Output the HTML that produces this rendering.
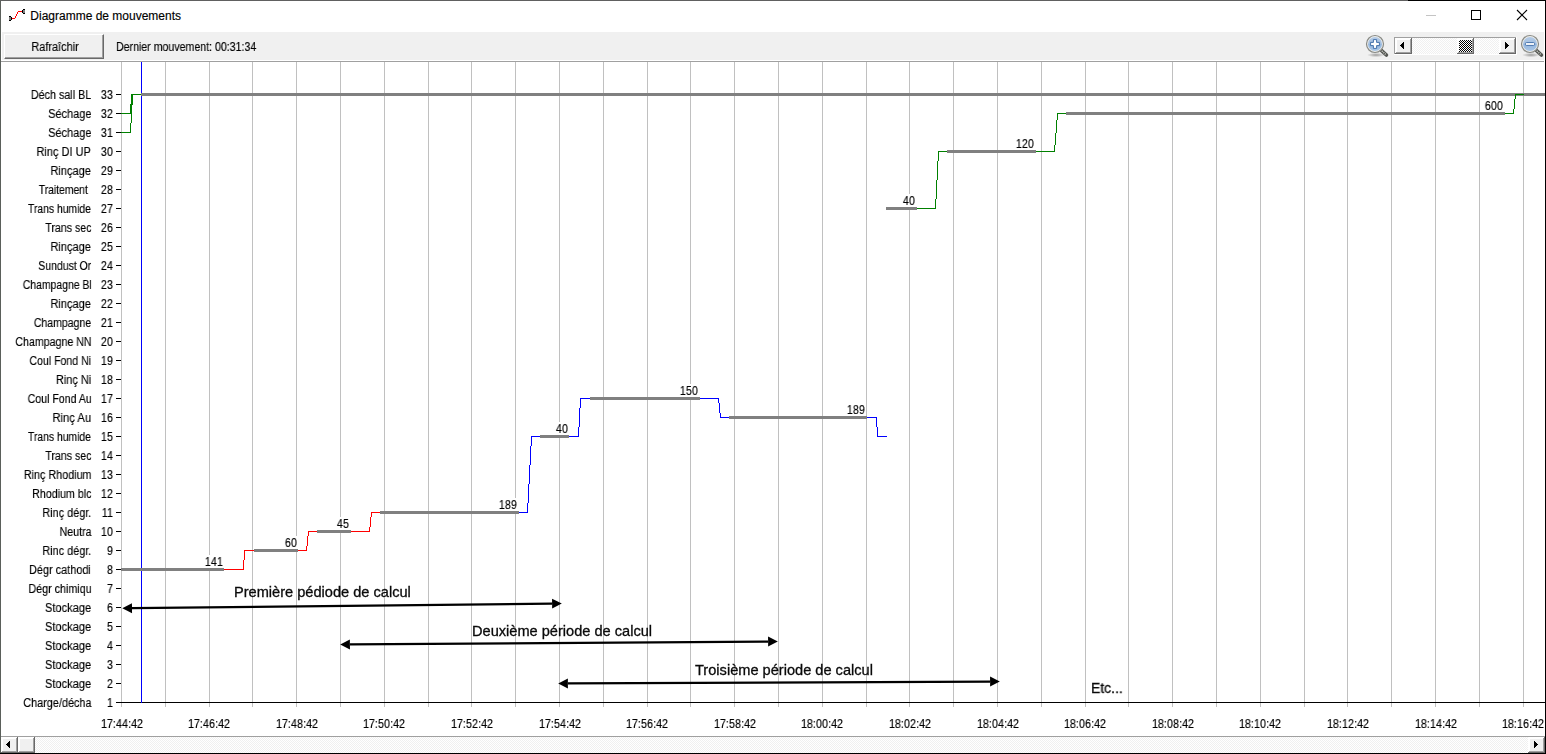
<!DOCTYPE html>
<html lang="fr"><head><meta charset="utf-8"><title>Diagramme de mouvements</title>
<style>
html,body{margin:0;padding:0;background:#fff;}
body{width:1546px;height:754px;overflow:hidden;position:relative;font-family:"Liberation Sans",sans-serif;color:#000;}
.abs{position:absolute;}
#win{position:absolute;left:0;top:0;width:1546px;height:754px;overflow:hidden;background:#fff;}
#title{position:absolute;left:30.3px;top:8px;font-size:12px;line-height:16px;white-space:pre;color:#000;-webkit-text-stroke:0.15px #000;}
#tb{position:absolute;left:2px;top:32px;width:1542px;height:28px;background:#f0f0f0;}
#tbline{position:absolute;left:1px;top:61px;width:1543px;height:1px;background:#a0a0a0;}
.ms{position:absolute;white-space:pre;font-size:12.5px;line-height:1;color:#000;will-change:transform;-webkit-text-stroke:0.15px #000;}
.r{transform:scaleX(0.875);transform-origin:100% 50%;text-align:right;}
.l{transform:scaleX(0.875);transform-origin:0 50%;}
.c{transform:scaleX(0.875);transform-origin:50% 50%;text-align:center;}
.rd{transform:scaleX(0.865);transform-origin:100% 50%;text-align:right;}
.cd{transform:scaleX(0.865);transform-origin:50% 50%;text-align:center;}
.cal{position:absolute;white-space:pre;font-size:14.6px;line-height:1;color:#0a0a0a;will-change:transform;-webkit-text-stroke:0.3px #0a0a0a;}
#btn{position:absolute;left:4px;top:34px;width:100px;height:25px;background:#f0f0f0;box-sizing:border-box;
 border-left:1px solid #fff;border-top:1px solid #fff;border-right:1px solid #696969;border-bottom:1px solid #696969;}
#btn i{position:absolute;left:0;top:0;right:0;bottom:0;border-right:1px solid #a0a0a0;border-bottom:1px solid #a0a0a0;}
svg{position:absolute;left:0;top:0;}

</style></head><body><div id="win">
<div id="title">Diagramme de mouvements</div>
<div id="tb"></div><div id="tbline"></div>
<div id="btn"><i></i></div>
<svg width="1546" height="754" viewBox="0 0 1546 754">
<g shape-rendering="crispEdges">
<rect x="121" y="62" width="1" height="645" fill="#c0c0c0"/>
<rect x="165" y="62" width="1" height="645" fill="#c0c0c0"/>
<rect x="209" y="62" width="1" height="645" fill="#c0c0c0"/>
<rect x="252" y="62" width="1" height="645" fill="#c0c0c0"/>
<rect x="296" y="62" width="1" height="645" fill="#c0c0c0"/>
<rect x="340" y="62" width="1" height="645" fill="#c0c0c0"/>
<rect x="384" y="62" width="1" height="645" fill="#c0c0c0"/>
<rect x="428" y="62" width="1" height="645" fill="#c0c0c0"/>
<rect x="471" y="62" width="1" height="645" fill="#c0c0c0"/>
<rect x="515" y="62" width="1" height="645" fill="#c0c0c0"/>
<rect x="559" y="62" width="1" height="645" fill="#c0c0c0"/>
<rect x="603" y="62" width="1" height="645" fill="#c0c0c0"/>
<rect x="647" y="62" width="1" height="645" fill="#c0c0c0"/>
<rect x="690" y="62" width="1" height="645" fill="#c0c0c0"/>
<rect x="734" y="62" width="1" height="645" fill="#c0c0c0"/>
<rect x="778" y="62" width="1" height="645" fill="#c0c0c0"/>
<rect x="822" y="62" width="1" height="645" fill="#c0c0c0"/>
<rect x="866" y="62" width="1" height="645" fill="#c0c0c0"/>
<rect x="909" y="62" width="1" height="645" fill="#c0c0c0"/>
<rect x="953" y="62" width="1" height="645" fill="#c0c0c0"/>
<rect x="997" y="62" width="1" height="645" fill="#c0c0c0"/>
<rect x="1041" y="62" width="1" height="645" fill="#c0c0c0"/>
<rect x="1085" y="62" width="1" height="645" fill="#c0c0c0"/>
<rect x="1128" y="62" width="1" height="645" fill="#c0c0c0"/>
<rect x="1172" y="62" width="1" height="645" fill="#c0c0c0"/>
<rect x="1216" y="62" width="1" height="645" fill="#c0c0c0"/>
<rect x="1260" y="62" width="1" height="645" fill="#c0c0c0"/>
<rect x="1304" y="62" width="1" height="645" fill="#c0c0c0"/>
<rect x="1347" y="62" width="1" height="645" fill="#c0c0c0"/>
<rect x="1391" y="62" width="1" height="645" fill="#c0c0c0"/>
<rect x="1435" y="62" width="1" height="645" fill="#c0c0c0"/>
<rect x="1479" y="62" width="1" height="645" fill="#c0c0c0"/>
<rect x="1523" y="62" width="1" height="645" fill="#c0c0c0"/>
<rect x="116" y="702" width="5" height="1" fill="#000"/>
<rect x="116" y="683" width="5" height="1" fill="#000"/>
<rect x="116" y="664" width="5" height="1" fill="#000"/>
<rect x="116" y="645" width="5" height="1" fill="#000"/>
<rect x="116" y="626" width="5" height="1" fill="#000"/>
<rect x="116" y="607" width="5" height="1" fill="#000"/>
<rect x="116" y="588" width="5" height="1" fill="#000"/>
<rect x="116" y="569" width="5" height="1" fill="#000"/>
<rect x="116" y="550" width="5" height="1" fill="#000"/>
<rect x="116" y="531" width="5" height="1" fill="#000"/>
<rect x="116" y="512" width="5" height="1" fill="#000"/>
<rect x="116" y="493" width="5" height="1" fill="#000"/>
<rect x="116" y="474" width="5" height="1" fill="#000"/>
<rect x="116" y="455" width="5" height="1" fill="#000"/>
<rect x="116" y="436" width="5" height="1" fill="#000"/>
<rect x="116" y="417" width="5" height="1" fill="#000"/>
<rect x="116" y="398" width="5" height="1" fill="#000"/>
<rect x="116" y="379" width="5" height="1" fill="#000"/>
<rect x="116" y="360" width="5" height="1" fill="#000"/>
<rect x="116" y="341" width="5" height="1" fill="#000"/>
<rect x="116" y="322" width="5" height="1" fill="#000"/>
<rect x="116" y="303" width="5" height="1" fill="#000"/>
<rect x="116" y="284" width="5" height="1" fill="#000"/>
<rect x="116" y="265" width="5" height="1" fill="#000"/>
<rect x="116" y="246" width="5" height="1" fill="#000"/>
<rect x="116" y="227" width="5" height="1" fill="#000"/>
<rect x="116" y="208" width="5" height="1" fill="#000"/>
<rect x="116" y="189" width="5" height="1" fill="#000"/>
<rect x="116" y="170" width="5" height="1" fill="#000"/>
<rect x="116" y="151" width="5" height="1" fill="#000"/>
<rect x="116" y="132" width="5" height="1" fill="#000"/>
<rect x="116" y="113" width="5" height="1" fill="#000"/>
<rect x="116" y="94" width="5" height="1" fill="#000"/>
<rect x="121" y="702" width="1424" height="1" fill="#000"/>
<rect x="141" y="62" width="1" height="641" fill="#0000ff"/>
<rect x="204" y="555" width="19" height="13" fill="#fff"/>
<rect x="284" y="536" width="13" height="13" fill="#fff"/>
<rect x="337" y="517" width="13" height="13" fill="#fff"/>
<rect x="498" y="498" width="19" height="13" fill="#fff"/>
<rect x="555" y="422" width="13" height="13" fill="#fff"/>
<rect x="680" y="384" width="19" height="13" fill="#fff"/>
<rect x="847" y="403" width="19" height="13" fill="#fff"/>
<rect x="902" y="194" width="13" height="13" fill="#fff"/>
<rect x="1016" y="137" width="19" height="13" fill="#fff"/>
<rect x="1484" y="99" width="19" height="13" fill="#fff"/>
<rect x="121" y="132" width="10" height="1" fill="#008000"/>
<rect x="130" y="123" width="1" height="10" fill="#008000"/>
<rect x="131" y="113" width="1" height="10" fill="#008000"/>
<rect x="121" y="113" width="11" height="1" fill="#008000"/>
<rect x="130" y="104" width="2" height="10" fill="#008000"/><rect x="131" y="94" width="2" height="11" fill="#008000"/>
<rect x="131" y="94" width="11" height="1" fill="#008000"/>
<rect x="141" y="93" width="1404" height="3" fill="#808080"/>
<rect x="224" y="569" width="20" height="1" fill="#ff0000"/>
<rect x="243" y="560" width="1" height="10" fill="#ff0000"/>
<rect x="244" y="550" width="1" height="10" fill="#ff0000"/>
<rect x="244" y="550" width="10" height="1" fill="#ff0000"/>
<rect x="298" y="550" width="9" height="1" fill="#ff0000"/>
<rect x="306" y="546" width="1" height="5" fill="#ff0000"/>
<rect x="307" y="536" width="1" height="10" fill="#ff0000"/>
<rect x="308" y="531" width="1" height="5" fill="#ff0000"/>
<rect x="308" y="531" width="9" height="1" fill="#ff0000"/>
<rect x="351" y="531" width="19" height="1" fill="#ff0000"/>
<rect x="369" y="527" width="1" height="5" fill="#ff0000"/>
<rect x="370" y="517" width="1" height="10" fill="#ff0000"/>
<rect x="371" y="512" width="1" height="5" fill="#ff0000"/>
<rect x="371" y="512" width="9" height="1" fill="#ff0000"/>
<rect x="519" y="512" width="9" height="1" fill="#0000ff"/>
<rect x="527" y="503" width="1" height="10" fill="#0000ff"/>
<rect x="528" y="484" width="1" height="19" fill="#0000ff"/>
<rect x="529" y="465" width="1" height="19" fill="#0000ff"/>
<rect x="530" y="446" width="1" height="19" fill="#0000ff"/>
<rect x="531" y="436" width="1" height="10" fill="#0000ff"/>
<rect x="531" y="436" width="9" height="1" fill="#0000ff"/>
<rect x="569" y="436" width="10" height="1" fill="#0000ff"/>
<rect x="578" y="427" width="1" height="10" fill="#0000ff"/>
<rect x="579" y="408" width="1" height="19" fill="#0000ff"/>
<rect x="580" y="398" width="1" height="10" fill="#0000ff"/>
<rect x="580" y="398" width="10" height="1" fill="#0000ff"/>
<rect x="700" y="398" width="19" height="1" fill="#0000ff"/>
<rect x="718" y="398" width="1" height="5" fill="#0000ff"/>
<rect x="719" y="403" width="1" height="10" fill="#0000ff"/>
<rect x="720" y="413" width="1" height="5" fill="#0000ff"/>
<rect x="720" y="417" width="9" height="1" fill="#0000ff"/>
<rect x="867" y="417" width="10" height="1" fill="#0000ff"/>
<rect x="876" y="417" width="1" height="10" fill="#0000ff"/>
<rect x="877" y="427" width="1" height="10" fill="#0000ff"/>
<rect x="877" y="436" width="10" height="1" fill="#0000ff"/>
<rect x="121" y="568" width="103" height="3" fill="#808080"/>
<rect x="254" y="549" width="44" height="3" fill="#808080"/>
<rect x="317" y="530" width="34" height="3" fill="#808080"/>
<rect x="380" y="511" width="139" height="3" fill="#808080"/>
<rect x="540" y="435" width="29" height="3" fill="#808080"/>
<rect x="590" y="397" width="110" height="3" fill="#808080"/>
<rect x="729" y="416" width="138" height="3" fill="#808080"/>
<rect x="917" y="208" width="19" height="1" fill="#008000"/>
<rect x="935" y="199" width="1" height="10" fill="#008000"/>
<rect x="936" y="180" width="1" height="19" fill="#008000"/>
<rect x="937" y="161" width="1" height="19" fill="#008000"/>
<rect x="938" y="151" width="1" height="10" fill="#008000"/>
<rect x="938" y="151" width="9" height="1" fill="#008000"/>
<rect x="1036" y="151" width="19" height="1" fill="#008000"/>
<rect x="1054" y="145" width="1" height="7" fill="#008000"/>
<rect x="1055" y="133" width="1" height="12" fill="#008000"/>
<rect x="1056" y="120" width="1" height="13" fill="#008000"/>
<rect x="1057" y="113" width="1" height="7" fill="#008000"/>
<rect x="1057" y="113" width="9" height="1" fill="#008000"/>
<rect x="1505" y="113" width="9" height="1" fill="#008000"/>
<rect x="1513" y="109" width="1" height="5" fill="#008000"/>
<rect x="1514" y="99" width="1" height="10" fill="#008000"/>
<rect x="1515" y="94" width="1" height="5" fill="#008000"/>
<rect x="886" y="207" width="31" height="3" fill="#808080"/>
<rect x="947" y="150" width="89" height="3" fill="#808080"/>
<rect x="1066" y="112" width="439" height="3" fill="#808080"/>
<rect x="1515" y="94" width="9" height="1" fill="#008000"/>
</g>
<line x1="132.00" y1="608.19" x2="552.10" y2="603.61" stroke="#000" stroke-width="2.2"/>
<polygon points="122.30,608.30 132.05,613.14 131.95,603.24" fill="#000"/>
<polygon points="561.80,603.50 552.15,608.56 552.05,598.66" fill="#000"/>
<line x1="349.90" y1="644.43" x2="768.10" y2="641.57" stroke="#000" stroke-width="2.2"/>
<polygon points="340.20,644.50 349.93,649.38 349.87,639.48" fill="#000"/>
<polygon points="777.80,641.50 768.13,646.52 768.07,636.62" fill="#000"/>
<line x1="567.90" y1="683.46" x2="990.10" y2="681.54" stroke="#000" stroke-width="2.2"/>
<polygon points="558.20,683.50 567.92,688.41 567.88,678.51" fill="#000"/>
<polygon points="999.80,681.50 990.12,686.49 990.08,676.59" fill="#000"/>
<g shape-rendering="crispEdges">
<rect x="0" y="0" width="1" height="754" fill="#5a5f5a"/>
<rect x="0" y="0" width="1408" height="1" fill="#606060"/><rect x="1408" y="0" width="138" height="1" fill="#000"/>
<rect x="1545" y="0" width="1" height="754" fill="#000"/>
<rect x="0" y="753" width="1546" height="1" fill="#000"/>
</g>
<defs><pattern id="dz" width="2" height="2" patternUnits="userSpaceOnUse"><rect width="2" height="2" fill="#fff"/><rect width="1" height="1" fill="#f0f0f0"/><rect x="1" y="1" width="1" height="1" fill="#f0f0f0"/></pattern>
<pattern id="dk" width="2" height="2" patternUnits="userSpaceOnUse"><rect width="2" height="2" fill="#fff"/><rect width="1" height="1" fill="#000"/><rect x="1" y="1" width="1" height="1" fill="#000"/></pattern>
<radialGradient id="sh"><stop offset="0" stop-color="#000" stop-opacity=".35"/><stop offset="1" stop-color="#000" stop-opacity="0"/></radialGradient>
<linearGradient id="lens" x1="0" y1="0" x2="0" y2="1"><stop offset="0" stop-color="#b4cbe6"/><stop offset=".5" stop-color="#a3bfe0"/><stop offset=".5" stop-color="#93b5dd"/><stop offset="1" stop-color="#a9c6e6"/></linearGradient>
</defs>
<g shape-rendering="crispEdges">
<rect x="1394" y="37" width="123" height="18" fill="#fff"/>
<rect x="1394" y="37" width="122" height="1" fill="#a0a0a0"/><rect x="1394" y="37" width="1" height="17" fill="#a0a0a0"/>
<rect x="1395" y="38" width="121" height="16" fill="url(#dz)"/>
<rect x="1395" y="38" width="17" height="16" fill="#f0f0f0"/>
<rect x="1395" y="38" width="16" height="1" fill="#fff"/><rect x="1395" y="38" width="1" height="15" fill="#fff"/>
<rect x="1396" y="39" width="15" height="1" fill="#fff"/><rect x="1396" y="39" width="1" height="14" fill="#fff"/>
<rect x="1410" y="39" width="1" height="14" fill="#a0a0a0"/><rect x="1396" y="52" width="15" height="1" fill="#a0a0a0"/>
<rect x="1411" y="38" width="1" height="16" fill="#696969"/><rect x="1395" y="53" width="17" height="1" fill="#696969"/>
<rect x="1400" y="45" width="1" height="1" fill="#000"/>
<rect x="1401" y="44" width="1" height="3" fill="#000"/>
<rect x="1402" y="43" width="1" height="5" fill="#000"/>
<rect x="1403" y="42" width="1" height="7" fill="#000"/>
<rect x="1499" y="38" width="17" height="16" fill="#f0f0f0"/>
<rect x="1499" y="38" width="16" height="1" fill="#fff"/><rect x="1499" y="38" width="1" height="15" fill="#fff"/>
<rect x="1500" y="39" width="15" height="1" fill="#fff"/><rect x="1500" y="39" width="1" height="14" fill="#fff"/>
<rect x="1514" y="39" width="1" height="14" fill="#a0a0a0"/><rect x="1500" y="52" width="15" height="1" fill="#a0a0a0"/>
<rect x="1515" y="38" width="1" height="16" fill="#696969"/><rect x="1499" y="53" width="17" height="1" fill="#696969"/>
<rect x="1505" y="42" width="1" height="7" fill="#000"/>
<rect x="1506" y="43" width="1" height="5" fill="#000"/>
<rect x="1507" y="44" width="1" height="3" fill="#000"/>
<rect x="1508" y="45" width="1" height="1" fill="#000"/>
<rect x="1457" y="38" width="17" height="16" fill="#f0f0f0"/>
<rect x="1457" y="38" width="16" height="1" fill="#fff"/><rect x="1457" y="38" width="1" height="15" fill="#fff"/>
<rect x="1458" y="39" width="15" height="1" fill="#fff"/><rect x="1458" y="39" width="1" height="14" fill="#fff"/>
<rect x="1472" y="39" width="1" height="14" fill="#a0a0a0"/><rect x="1458" y="52" width="15" height="1" fill="#a0a0a0"/>
<rect x="1473" y="38" width="1" height="16" fill="#696969"/><rect x="1457" y="53" width="17" height="1" fill="#696969"/>
<rect x="1459" y="40" width="13" height="12" fill="url(#dk)"/>
<rect x="1" y="736" width="1544" height="17" fill="url(#dz)"/>
<rect x="1" y="736" width="1544" height="1" fill="#a0a0a0"/>
<rect x="1" y="737" width="17" height="16" fill="#f0f0f0"/>
<rect x="1" y="737" width="16" height="1" fill="#fff"/><rect x="1" y="737" width="1" height="15" fill="#fff"/>
<rect x="2" y="738" width="15" height="1" fill="#fff"/><rect x="2" y="738" width="1" height="14" fill="#fff"/>
<rect x="16" y="738" width="1" height="14" fill="#a0a0a0"/><rect x="2" y="751" width="15" height="1" fill="#a0a0a0"/>
<rect x="17" y="737" width="1" height="16" fill="#696969"/><rect x="1" y="752" width="17" height="1" fill="#696969"/>
<rect x="6" y="744" width="1" height="1" fill="#000"/>
<rect x="7" y="743" width="1" height="3" fill="#000"/>
<rect x="8" y="742" width="1" height="5" fill="#000"/>
<rect x="9" y="741" width="1" height="7" fill="#000"/>
<rect x="18" y="737" width="17" height="16" fill="#f0f0f0"/>
<rect x="18" y="737" width="16" height="1" fill="#fff"/><rect x="18" y="737" width="1" height="15" fill="#fff"/>
<rect x="19" y="738" width="15" height="1" fill="#fff"/><rect x="19" y="738" width="1" height="14" fill="#fff"/>
<rect x="33" y="738" width="1" height="14" fill="#a0a0a0"/><rect x="19" y="751" width="15" height="1" fill="#a0a0a0"/>
<rect x="34" y="737" width="1" height="16" fill="#696969"/><rect x="18" y="752" width="17" height="1" fill="#696969"/>
<rect x="1528" y="737" width="17" height="16" fill="#f0f0f0"/>
<rect x="1528" y="737" width="16" height="1" fill="#fff"/><rect x="1528" y="737" width="1" height="15" fill="#fff"/>
<rect x="1529" y="738" width="15" height="1" fill="#fff"/><rect x="1529" y="738" width="1" height="14" fill="#fff"/>
<rect x="1543" y="738" width="1" height="14" fill="#a0a0a0"/><rect x="1529" y="751" width="15" height="1" fill="#a0a0a0"/>
<rect x="1544" y="737" width="1" height="16" fill="#696969"/><rect x="1528" y="752" width="17" height="1" fill="#696969"/>
<rect x="1534" y="741" width="1" height="7" fill="#000"/>
<rect x="1535" y="742" width="1" height="5" fill="#000"/>
<rect x="1536" y="743" width="1" height="3" fill="#000"/>
<rect x="1537" y="744" width="1" height="1" fill="#000"/>
<rect x="1426" y="15" width="10" height="1" fill="#c4c4c4"/>
<rect x="1471" y="10" width="10" height="10" fill="none" stroke="none"/>
<path d="M1471 10h10v10h-10z M1472 11v8h8v-8z" fill="#000" fill-rule="evenodd"/>
</g>
<path d="M1517 10L1527 20M1527 10L1517 20" stroke="#000" stroke-width="1.1" fill="none"/>
<g shape-rendering="crispEdges">
<rect x="9" y="16" width="2" height="5" fill="#000"/><rect x="9" y="17" width="2" height="3" fill="#808080"/><rect x="11" y="17" width="1" height="3" fill="#000"/>
<rect x="23" y="9" width="2" height="5" fill="#000"/><rect x="23" y="10" width="2" height="3" fill="#808080"/><rect x="22" y="10" width="1" height="3" fill="#000"/>
<rect x="12" y="18" width="3" height="1" fill="#f00"/><rect x="18" y="11" width="4" height="1" fill="#f00"/>
<rect x="15" y="17" width="1" height="1" fill="#f00"/>
<rect x="15" y="16" width="1" height="1" fill="#f00"/>
<rect x="16" y="15" width="1" height="1" fill="#f00"/>
<rect x="16" y="14" width="1" height="1" fill="#f00"/>
<rect x="17" y="13" width="1" height="1" fill="#f00"/>
<rect x="17" y="12" width="1" height="1" fill="#f00"/>
</g>
<g transform="translate(1375,44)">
<ellipse cx="1" cy="11" rx="9" ry="2.2" fill="url(#sh)"/>
<line x1="6.3" y1="6.3" x2="11.4" y2="11" stroke="#555753" stroke-width="3.7" stroke-linecap="round"/>
<line x1="7" y1="7" x2="11" y2="10.7" stroke="#d3d7cf" stroke-width="1.6" stroke-dasharray="0.9 1.1"/>
<circle r="8.5" fill="#eeeeec" stroke="#888a85" stroke-width="1.2"/>
<circle r="7" fill="url(#lens)"/>
<path d="M-1.6 -4.4h3.2v2.8h2.8v3.2h-2.8v2.8h-3.2v-2.8h-2.8v-3.2h2.8z" fill="#fff" stroke="#3465a4" stroke-width="0.9" stroke-linejoin="round"/>
</g>
<g transform="translate(1530,44)">
<ellipse cx="1" cy="11" rx="9" ry="2.2" fill="url(#sh)"/>
<line x1="6.3" y1="6.3" x2="11.4" y2="11" stroke="#555753" stroke-width="3.7" stroke-linecap="round"/>
<line x1="7" y1="7" x2="11" y2="10.7" stroke="#d3d7cf" stroke-width="1.6" stroke-dasharray="0.9 1.1"/>
<circle r="8.5" fill="#eeeeec" stroke="#888a85" stroke-width="1.2"/>
<circle r="7" fill="url(#lens)"/>
<rect x="-4.6" y="-1.4" width="9.2" height="2.8" rx="1" fill="#fff" stroke="#3465a4" stroke-width="0.9"/>
</g>
</svg>
<div class="ms c" style="top:41.42px;left:-45.5px;width:200px;">Rafraîchir</div>
<div class="ms l" style="top:41.42px;left:116px;transform:scaleX(0.848);">Dernier mouvement: 00:31:34</div>
<div class="ms r" style="top:89.42px;right:1454.7px;transform:scaleX(0.860);">Déch sall BL</div>
<div class="ms rd" style="top:89.42px;right:1432.8px;">33</div>
<div class="ms r" style="top:108.42px;right:1454.7px;transform:scaleX(0.873);">Séchage</div>
<div class="ms rd" style="top:108.42px;right:1432.8px;">32</div>
<div class="ms r" style="top:127.42px;right:1454.7px;transform:scaleX(0.873);">Séchage</div>
<div class="ms rd" style="top:127.42px;right:1432.8px;">31</div>
<div class="ms r" style="top:146.42px;right:1454.7px;transform:scaleX(0.879);">Rinç DI UP</div>
<div class="ms rd" style="top:146.42px;right:1432.8px;">30</div>
<div class="ms r" style="top:165.42px;right:1454.7px;transform:scaleX(0.881);">Rinçage</div>
<div class="ms rd" style="top:165.42px;right:1432.8px;">29</div>
<div class="ms r" style="top:184.42px;right:1455.4px;transform:scaleX(0.829);">Traitement </div>
<div class="ms rd" style="top:184.42px;right:1432.8px;">28</div>
<div class="ms r" style="top:203.42px;right:1454.7px;transform:scaleX(0.830);">Trans humide</div>
<div class="ms rd" style="top:203.42px;right:1432.8px;">27</div>
<div class="ms r" style="top:222.42px;right:1454.7px;transform:scaleX(0.848);">Trans sec</div>
<div class="ms rd" style="top:222.42px;right:1432.8px;">26</div>
<div class="ms r" style="top:241.42px;right:1454.7px;transform:scaleX(0.881);">Rinçage</div>
<div class="ms rd" style="top:241.42px;right:1432.8px;">25</div>
<div class="ms r" style="top:260.42px;right:1454.7px;transform:scaleX(0.837);">Sundust Or</div>
<div class="ms rd" style="top:260.42px;right:1432.8px;">24</div>
<div class="ms r" style="top:279.42px;right:1454.7px;transform:scaleX(0.833);">Champagne Bl</div>
<div class="ms rd" style="top:279.42px;right:1432.8px;">23</div>
<div class="ms r" style="top:298.42px;right:1454.7px;transform:scaleX(0.881);">Rinçage</div>
<div class="ms rd" style="top:298.42px;right:1432.8px;">22</div>
<div class="ms r" style="top:317.42px;right:1454.7px;transform:scaleX(0.841);">Champagne</div>
<div class="ms rd" style="top:317.42px;right:1432.8px;">21</div>
<div class="ms r" style="top:336.42px;right:1454.7px;transform:scaleX(0.851);">Champagne NN</div>
<div class="ms rd" style="top:336.42px;right:1432.8px;">20</div>
<div class="ms r" style="top:355.42px;right:1454.7px;transform:scaleX(0.843);">Coul Fond Ni</div>
<div class="ms rd" style="top:355.42px;right:1432.8px;">19</div>
<div class="ms r" style="top:374.42px;right:1454.7px;transform:scaleX(0.879);">Rinç Ni</div>
<div class="ms rd" style="top:374.42px;right:1432.8px;">18</div>
<div class="ms r" style="top:393.42px;right:1454.7px;transform:scaleX(0.846);">Coul Fond Au</div>
<div class="ms rd" style="top:393.42px;right:1432.8px;">17</div>
<div class="ms r" style="top:412.42px;right:1454.7px;transform:scaleX(0.897);">Rinç Au</div>
<div class="ms rd" style="top:412.42px;right:1432.8px;">16</div>
<div class="ms r" style="top:431.42px;right:1454.7px;transform:scaleX(0.830);">Trans humide</div>
<div class="ms rd" style="top:431.42px;right:1432.8px;">15</div>
<div class="ms r" style="top:450.42px;right:1454.7px;transform:scaleX(0.848);">Trans sec</div>
<div class="ms rd" style="top:450.42px;right:1432.8px;">14</div>
<div class="ms r" style="top:469.42px;right:1454.7px;transform:scaleX(0.862);">Rinç Rhodium</div>
<div class="ms rd" style="top:469.42px;right:1432.8px;">13</div>
<div class="ms r" style="top:488.42px;right:1454.7px;transform:scaleX(0.854);">Rhodium blc</div>
<div class="ms rd" style="top:488.42px;right:1432.8px;">12</div>
<div class="ms r" style="top:507.42px;right:1454.7px;transform:scaleX(0.869);">Rinç dégr.</div>
<div class="ms rd" style="top:507.42px;right:1432.8px;">11</div>
<div class="ms r" style="top:526.42px;right:1454.7px;transform:scaleX(0.851);">Neutra</div>
<div class="ms rd" style="top:526.42px;right:1432.8px;">10</div>
<div class="ms r" style="top:545.42px;right:1454.7px;transform:scaleX(0.869);">Rinc dégr.</div>
<div class="ms rd" style="top:545.42px;right:1432.8px;">9</div>
<div class="ms r" style="top:564.42px;right:1454.7px;transform:scaleX(0.873);">Dégr cathodi</div>
<div class="ms rd" style="top:564.42px;right:1432.8px;">8</div>
<div class="ms r" style="top:583.42px;right:1454.7px;transform:scaleX(0.858);">Dégr chimiqu</div>
<div class="ms rd" style="top:583.42px;right:1432.8px;">7</div>
<div class="ms r" style="top:602.42px;right:1454.7px;transform:scaleX(0.885);">Stockage</div>
<div class="ms rd" style="top:602.42px;right:1432.8px;">6</div>
<div class="ms r" style="top:621.42px;right:1454.7px;transform:scaleX(0.885);">Stockage</div>
<div class="ms rd" style="top:621.42px;right:1432.8px;">5</div>
<div class="ms r" style="top:640.42px;right:1454.7px;transform:scaleX(0.885);">Stockage</div>
<div class="ms rd" style="top:640.42px;right:1432.8px;">4</div>
<div class="ms r" style="top:659.42px;right:1454.7px;transform:scaleX(0.885);">Stockage</div>
<div class="ms rd" style="top:659.42px;right:1432.8px;">3</div>
<div class="ms r" style="top:678.42px;right:1454.7px;transform:scaleX(0.885);">Stockage</div>
<div class="ms rd" style="top:678.42px;right:1432.8px;">2</div>
<div class="ms r" style="top:697.42px;right:1454.7px;transform:scaleX(0.869);">Charge/décha</div>
<div class="ms rd" style="top:697.42px;right:1432.8px;">1</div>
<div class="ms cd" style="top:718.42px;left:21.5px;width:200px;">17:44:42</div>
<div class="ms cd" style="top:718.42px;left:109.1px;width:200px;">17:46:42</div>
<div class="ms cd" style="top:718.42px;left:196.7px;width:200px;">17:48:42</div>
<div class="ms cd" style="top:718.42px;left:284.29999999999995px;width:200px;">17:50:42</div>
<div class="ms cd" style="top:718.42px;left:371.9px;width:200px;">17:52:42</div>
<div class="ms cd" style="top:718.42px;left:459.5px;width:200px;">17:54:42</div>
<div class="ms cd" style="top:718.42px;left:547.0999999999999px;width:200px;">17:56:42</div>
<div class="ms cd" style="top:718.42px;left:634.6999999999999px;width:200px;">17:58:42</div>
<div class="ms cd" style="top:718.42px;left:722.3px;width:200px;">18:00:42</div>
<div class="ms cd" style="top:718.42px;left:809.9px;width:200px;">18:02:42</div>
<div class="ms cd" style="top:718.42px;left:897.5px;width:200px;">18:04:42</div>
<div class="ms cd" style="top:718.42px;left:985.0999999999999px;width:200px;">18:06:42</div>
<div class="ms cd" style="top:718.42px;left:1072.6999999999998px;width:200px;">18:08:42</div>
<div class="ms cd" style="top:718.42px;left:1160.3px;width:200px;">18:10:42</div>
<div class="ms cd" style="top:718.42px;left:1247.8999999999999px;width:200px;">18:12:42</div>
<div class="ms cd" style="top:718.42px;left:1335.5px;width:200px;">18:14:42</div>
<div class="ms cd" style="top:718.42px;left:1423.1px;width:200px;">18:16:42</div>
<div class="ms rd" style="top:556.42px;right:1323.4px;">141</div>
<div class="ms rd" style="top:537.42px;right:1249.2px;">60</div>
<div class="ms rd" style="top:518.42px;right:1197.0px;">45</div>
<div class="ms rd" style="top:499.42px;right:1029.5px;">189</div>
<div class="ms rd" style="top:423.42px;right:978.4000000000001px;">40</div>
<div class="ms rd" style="top:385.42px;right:847.8000000000001px;">150</div>
<div class="ms rd" style="top:404.42px;right:680.8000000000001px;">189</div>
<div class="ms rd" style="top:195.42px;right:631.5px;">40</div>
<div class="ms rd" style="top:138.42px;right:512.2px;">120</div>
<div class="ms rd" style="top:100.42px;right:43.600000000000136px;">600</div>
<div class="cal" style="left:234.1px;top:584.73px;">Première pédiode de calcul</div>
<div class="cal" style="left:472px;top:623.83px;">Deuxième période de calcul</div>
<div class="cal" style="left:695px;top:662.73px;">Troisième période de calcul</div>
<div class="cal" style="left:1091px;top:681.03px;transform:scaleX(0.955);transform-origin:0 50%;">Etc...</div>
</div></body></html>
